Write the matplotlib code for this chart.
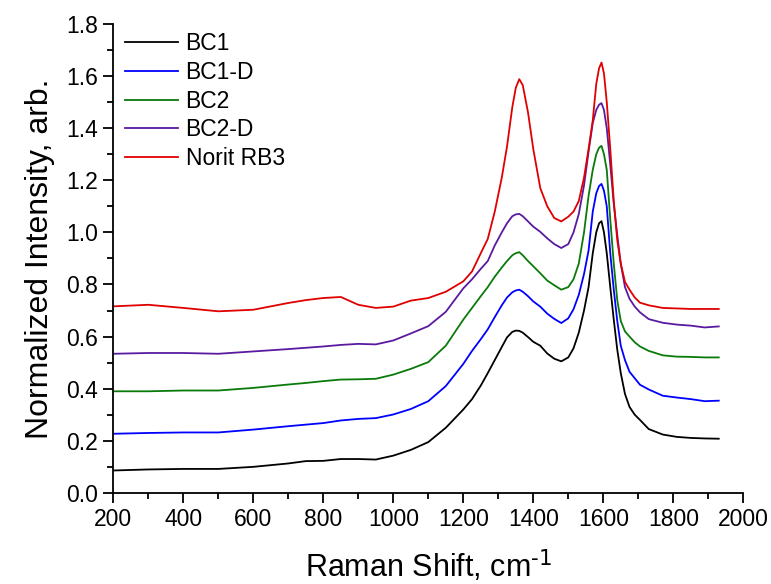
import matplotlib
matplotlib.use("Agg")
import matplotlib.pyplot as plt
from matplotlib.ticker import MultipleLocator

plt.rcParams['font.family'] = ['Liberation Sans', 'DejaVu Sans']

# Raman shift grid (cm-1), denser around the D and G bands
shift = [200, 300, 400, 500, 600, 700, 750, 800, 850, 900,
         950, 1000, 1050, 1100, 1150, 1200, 1225, 1250, 1270, 1290,
         1310, 1325, 1340, 1350, 1360, 1370, 1385, 1400, 1420, 1440,
         1460, 1480, 1500, 1515, 1530, 1545, 1558, 1570, 1580, 1588,
         1595, 1602, 1610, 1620, 1630, 1640, 1650, 1662, 1675, 1690,
         1705, 1730, 1770, 1810, 1850, 1890, 1930]

bc1 = [0.086, 0.090, 0.092, 0.092, 0.100, 0.113, 0.122, 0.123, 0.130, 0.130,
       0.128, 0.143, 0.165, 0.195, 0.250, 0.320, 0.360, 0.412, 0.460, 0.510,
       0.560, 0.597, 0.618, 0.623, 0.622, 0.615, 0.598, 0.580, 0.565, 0.535,
       0.515, 0.505, 0.520, 0.555, 0.615, 0.700, 0.790, 0.920, 1.000, 1.035,
       1.043, 1.000, 0.920, 0.790, 0.665, 0.550, 0.460, 0.380, 0.330, 0.300,
       0.280, 0.245, 0.224, 0.215, 0.211, 0.209, 0.208]

bc1_d = [0.227, 0.230, 0.232, 0.232, 0.243, 0.256, 0.262, 0.268, 0.278, 0.284,
         0.287, 0.301, 0.322, 0.352, 0.410, 0.495, 0.545, 0.590, 0.628, 0.675,
         0.720, 0.750, 0.770, 0.777, 0.780, 0.772, 0.755, 0.735, 0.715, 0.688,
         0.668, 0.652, 0.670, 0.705, 0.760, 0.840, 0.930, 1.080, 1.150, 1.178,
         1.186, 1.160, 1.100, 0.920, 0.780, 0.660, 0.565, 0.510, 0.465, 0.440,
         0.415, 0.397, 0.373, 0.366, 0.360, 0.352, 0.354]

bc2 = [0.390, 0.390, 0.393, 0.393, 0.403, 0.416, 0.422, 0.429, 0.435, 0.436,
       0.438, 0.454, 0.476, 0.502, 0.565, 0.665, 0.710, 0.755, 0.790, 0.830,
       0.865, 0.890, 0.912, 0.920, 0.924, 0.912, 0.890, 0.870, 0.843, 0.815,
       0.797, 0.780, 0.790, 0.820, 0.880, 1.000, 1.140, 1.240, 1.300, 1.325,
       1.332, 1.300, 1.240, 1.050, 0.880, 0.740, 0.660, 0.620, 0.600, 0.578,
       0.562, 0.545, 0.528, 0.523, 0.522, 0.520, 0.520]

bc2_d = [0.534, 0.537, 0.537, 0.534, 0.543, 0.552, 0.557, 0.562, 0.568, 0.572,
         0.570, 0.585, 0.612, 0.640, 0.695, 0.785, 0.820, 0.860, 0.890, 0.950,
         1.000, 1.035, 1.062, 1.069, 1.071, 1.062, 1.042, 1.022, 1.002, 0.977,
         0.955, 0.940, 0.955, 1.000, 1.070, 1.180, 1.310, 1.420, 1.470, 1.490,
         1.496, 1.470, 1.400, 1.260, 1.110, 0.990, 0.880, 0.790, 0.745, 0.715,
         0.693, 0.667, 0.653, 0.646, 0.642, 0.635, 0.639]

norit = [0.716, 0.722, 0.710, 0.697, 0.703, 0.729, 0.740, 0.748, 0.752, 0.722,
         0.710, 0.715, 0.738, 0.748, 0.772, 0.812, 0.850, 0.920, 0.975, 1.080,
         1.210, 1.330, 1.480, 1.555, 1.588, 1.565, 1.460, 1.320, 1.170, 1.100,
         1.055, 1.042, 1.060, 1.080, 1.120, 1.210, 1.320, 1.430, 1.570, 1.630,
         1.652, 1.610, 1.500, 1.320, 1.120, 0.970, 0.880, 0.810, 0.780, 0.750,
         0.730, 0.720, 0.710, 0.708, 0.706, 0.706, 0.706]

labels = ['BC1', 'BC1-D', 'BC2', 'BC2-D', 'Norit RB3']
colors = ['#000000', '#0000ff', '#0a7a0a', '#5a1aa0', '#e00000']

fig = plt.figure(figsize=(7.71, 5.84), dpi=100)
ax = fig.add_axes([0.147, 0.156, 0.817, 0.803])

for y, lab, c in zip([bc1, bc1_d, bc2, bc2_d, norit], labels, colors):
    ax.plot(shift, y, color=c, lw=1.3, label=lab)

ax.set_xlim(200, 2000)
ax.set_ylim(0, 1.8)
ax.xaxis.set_major_locator(MultipleLocator(200))
ax.xaxis.set_minor_locator(MultipleLocator(100))
ax.yaxis.set_major_locator(MultipleLocator(0.2))
ax.yaxis.set_minor_locator(MultipleLocator(0.1))
ax.yaxis.set_major_formatter(plt.FormatStrFormatter('%.1f'))

ax.spines['top'].set_visible(False)
ax.spines['right'].set_visible(False)
for s in ('left', 'bottom'):
    ax.spines[s].set_linewidth(1.3)

ax.tick_params(which='major', direction='out', length=7, width=1.3,
               labelsize=16.5, pad=4)
ax.tick_params(which='minor', direction='out', length=4, width=1.3)

ax.set_xlabel(r'Raman Shift, cm$^{\text{-}1}$', fontsize=22, labelpad=12)
ax.set_ylabel('Normalized Intensity, arb.', fontsize=23, labelpad=8)

ax.legend(loc='upper left', bbox_to_anchor=(0, 1.007), frameon=False,
          fontsize=16.5, handlelength=2.3, handletextpad=0.35,
          labelspacing=0.25, borderaxespad=0.1)

fig.savefig('out.png', dpi=100)
